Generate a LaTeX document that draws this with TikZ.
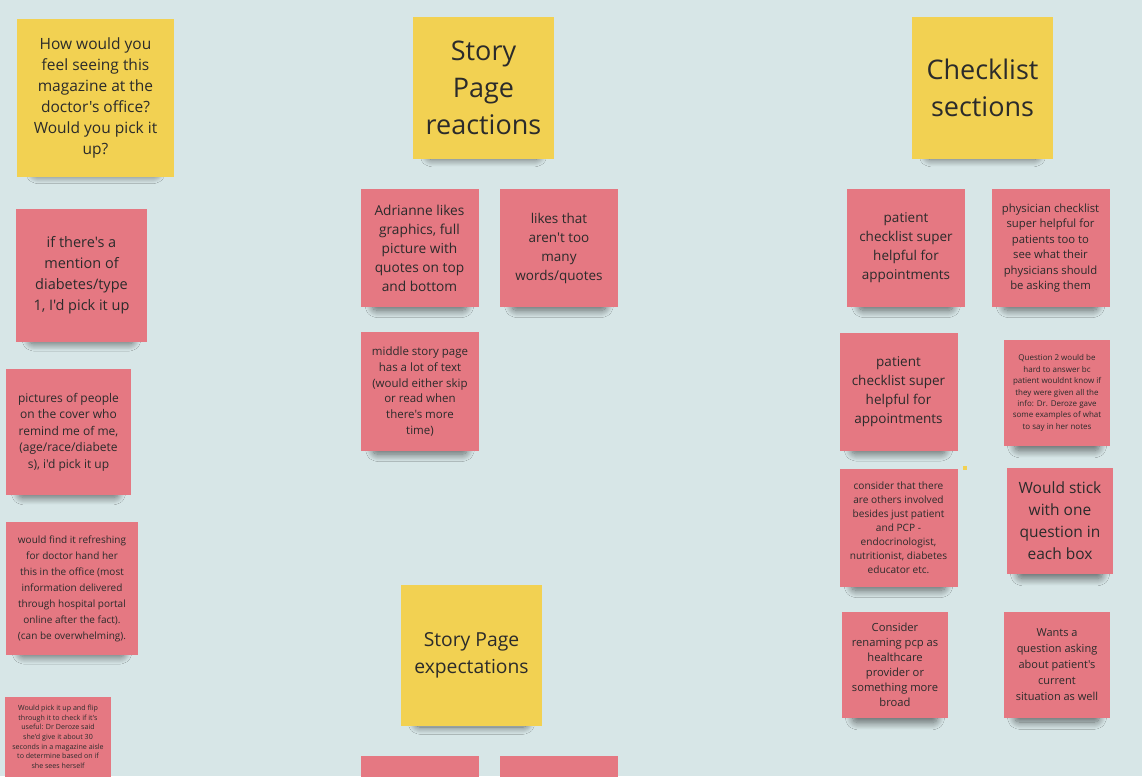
\documentclass[tikz,border=0pt]{standalone}
\usepackage{fontspec}
\setmainfont{Open Sans}[Ligatures=TeXOff]
\usetikzlibrary{shadows,shadows.blur}
\definecolor{boardbg}{HTML}{D7E6E7}
\definecolor{stickyyellow}{HTML}{F2D152}
\definecolor{stickypink}{HTML}{E57882}
\definecolor{stickytext}{HTML}{2B2B2B}
\definecolor{stickyshade}{HTML}{4A5657}
\tikzset{
  sticky/.style={rectangle, align=center, text=stickytext, inner sep=2pt,
    blur shadow={shadow xshift=0pt, shadow yshift=-19pt, shadow scale=0.8,
      shadow blur radius=9pt, shadow opacity=55, shadow blur steps=16,
      shadow blur extra rounding=6pt, fill=stickyshade}},
  yellowsticky/.style={sticky, fill=stickyyellow, minimum width=141pt, minimum height=141pt},
  pinksticky/.style={sticky, fill=stickypink, minimum width=118pt, minimum height=118pt},
  smallpink/.style={pinksticky, minimum width=106pt, minimum height=106pt},
  fsz/.style 2 args={font=\fontsize{#1}{#2}\selectfont}
}
\begin{document}
\begin{tikzpicture}[x=1pt,y=-1pt]
  \fill[boardbg] (0,0) rectangle (1142,776);
  \clip (0,0) rectangle (1142,776);
  % left column
  \node[yellowsticky, minimum width=157pt, minimum height=158pt, fsz={15.5}{21}] (howfeel) at (95.5,98)
    {How would you\\feel seeing this\\magazine at the\\doctor's office?\\Would you pick it\\up?};
  \node[pinksticky, minimum width=131pt, minimum height=133pt, fsz={14.5}{21}] (mentiondiabetes) at (81.5,275.5)
    {if there's a\\mention of\\diabetes/type\\1, I'd pick it up};
  \node[pinksticky, minimum width=125pt, minimum height=126pt, fsz={12}{16.5}] (picturespeople) at (68.5,432)
    {pictures of people\\on the cover who\\remind me of me,\\(age/race/diabete\\s), i'd pick it up};
  \node[pinksticky, minimum width=132pt, minimum height=133pt, fsz={10}{16}] (refreshing) at (72,588.5)
    {would find it refreshing\\for doctor hand her\\this in the office (most\\information delivered\\through hospital portal\\online after the fact).\\(can be overwhelming).};
  \node[smallpink] (flipthrough) at (58,750) {};
  \node[anchor=north, align=center, text=stickytext, inner sep=2pt, fsz={7.1}{9.7}] (flipthroughtext)
    at ([yshift=-6pt]flipthrough.north)
    {Would pick it up and flip\\through it to check if it's\\useful: Dr Deroze said\\she'd give it about 30\\seconds in a magazine aisle\\to determine based on if\\she sees herself};
  % story page column
  \node[yellowsticky, fsz={27}{37}] (reactionshead) at (483.5,88) {Story\\Page\\reactions};
  \node[pinksticky, fsz={13.7}{19}] (adrianne) at (419.5,248)
    {Adrianne likes\\graphics, full\\picture with\\quotes on top\\and bottom};
  \node[pinksticky, fsz={13.5}{19}] (fewwords) at (559,248)
    {likes that\\aren't too\\many\\words/quotes};
  \node[pinksticky, minimum height=119pt, fsz={11.5}{15.7}] (middlepage) at (420,391.5)
    {middle story page\\has a lot of text\\(would either skip\\or read when\\there's more\\time)};
  \node[yellowsticky, fsz={19.3}{27}] (expectationshead) at (471.5,655.5) {Story Page\\expectations};
  \node[pinksticky] (expectA) at (420,815) {};
  \node[pinksticky] (expectB) at (558.5,815) {};
  % checklist column
  \node[yellowsticky, fsz={27}{37}] (checklisthead) at (982.5,88) {Checklist\\sections};
  \node[pinksticky, fsz={13.5}{19}] (patientA) at (906,248)
    {patient\\checklist super\\helpful for\\appointments};
  \node[pinksticky, fsz={11.3}{15.5}] (physician) at (1050.5,248)
    {physician checklist\\super helpful for\\patients too to\\see what their\\physicians should\\be asking them};
  \node[pinksticky, fsz={13.5}{19}] (patientB) at (898.5,391.5)
    {patient\\checklist super\\helpful for\\appointments};
  \node[smallpink, fsz={8}{11.4}] (questiontwo) at (1057,393)
    {Question 2 would be\\hard to answer bc\\patient wouldnt know if\\they were given all the\\info: Dr. Deroze gave\\some examples of what\\to say in her notes};
  \node[pinksticky, fsz={10.1}{14}] (others) at (898.5,528)
    {consider that there\\are others involved\\besides just patient\\and PCP -\\endocrinologist,\\nutritionist, diabetes\\educator etc.};
  \node[smallpink, fsz={15.5}{22}] (onequestion) at (1060,521)
    {Would stick\\with one\\question in\\each box};
  \node[smallpink, fsz={11.2}{15}] (renaming) at (895,665)
    {Consider\\renaming pcp as\\healthcare\\provider or\\something more\\broad};
  \node[smallpink, fsz={11}{16}] (currentsituation) at (1057,664.5)
    {Wants a\\question asking\\about patient's\\current\\situation as well};
  \fill[stickyyellow] (963,466) rectangle (967,470);
\end{tikzpicture}
\end{document}
